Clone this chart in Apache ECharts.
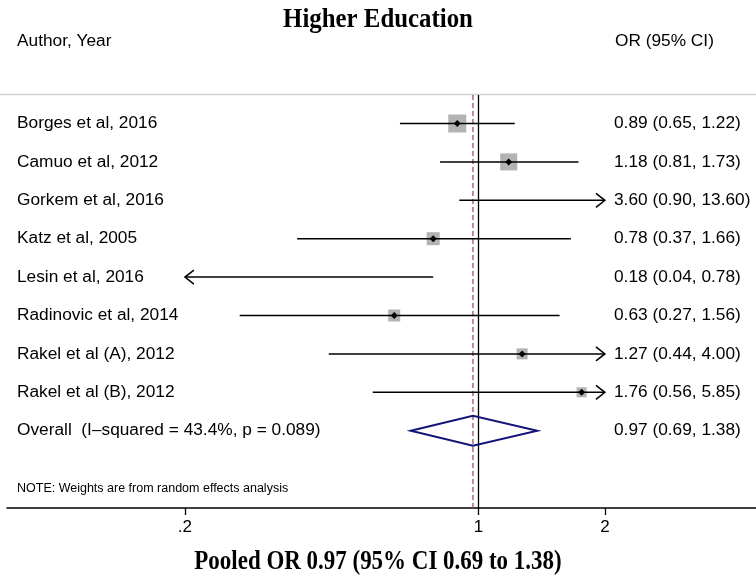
<!DOCTYPE html>
<html><head><meta charset="utf-8">
<script src="https://cdn.jsdelivr.net/npm/echarts@6/dist/echarts.min.js"></script>
<style>html,body{margin:0;padding:0;background:#fff}#c{width:756px;height:586px}</style>
</head><body><div id="c"></div>
<script>
// ---- data ----
const studies = ['Borges et al, 2016','Camuo et al, 2012','Gorkem et al, 2016','Katz et al, 2005','Lesin et al, 2016','Radinovic et al, 2014','Rakel et al (A), 2012','Rakel et al (B), 2012'];
const orValues = [0.89, 1.18, 3.60, 0.78, 0.18, 0.63, 1.27, 1.76];
const ciLower  = [0.65, 0.81, 0.90, 0.37, 0.04, 0.27, 0.44, 0.56];
const ciUpper  = [1.22, 1.73, 13.60, 1.66, 0.78, 1.56, 4.00, 5.85];
const weights  = [25.2, 22.5, 5.4, 13.1, 5.4, 11.2, 9.4, 7.8];
const overallLabel = 'Overall  (I\u2013squared = 43.4%, p = 0.089)';
const overallValues = [0.97, 0.69, 1.38]; // OR, lower, upper
const tickValues = [0.2, 1, 2];
const tickLabels = ['.2', '1', '2'];
const plotRange = [0.2, 2]; // displayed CI range (arrows beyond)
const refValues = [1, 0.97];

// ---- helpers / layout ----
const L = v => Math.log10(v);
const FONT = 'Liberation Sans, Arial, Helvetica, sans-serif';
const SERIF = 'Liberation Serif, Times New Roman, serif';
const xMin = -1.1226, xMax = 0.6607;
const yMin = -0.742, yMax = 10.013;
const fmt = (o, l, h) => `${o.toFixed(2)} (${l.toFixed(2)}, ${h.toFixed(2)})`;

const studyData = studies.map((s, i) => {
  const lo = Math.max(ciLower[i], plotRange[0]);
  const hi = Math.min(ciUpper[i], plotRange[1]);
  const inRange = orValues[i] >= plotRange[0] && orValues[i] <= plotRange[1] ? 1 : 0;
  return [i, L(lo), L(hi), L(orValues[i]), weights[i],
          ciLower[i] < plotRange[0] ? 1 : 0, ciUpper[i] > plotRange[1] ? 1 : 0, inRange];
});

function renderStudy(params, api) {
  const i = api.value(0);
  const pLo = api.coord([api.value(1), i]);
  const pHi = api.coord([api.value(2), i]);
  const pOr = api.coord([api.value(3), i]);
  const children = [];
  if (api.value(7)) {
    const s = 3.59 * Math.sqrt(api.value(4));
    children.push({type:'rect', shape:{x:pOr[0]-s/2, y:pOr[1]-s/2, width:s, height:s}, style:{fill:'#b3b3b3'}});
  }
  children.push({type:'line', shape:{x1:pLo[0], y1:pLo[1], x2:pHi[0], y2:pHi[1]}, style:{stroke:'#000', lineWidth:1.5}});
  if (api.value(5)) {
    children.push({type:'polyline', shape:{points:[[pLo[0]+9, pLo[1]-7],[pLo[0], pLo[1]],[pLo[0]+9, pLo[1]+7]]}, style:{stroke:'#000', lineWidth:1.5, fill:null}});
  }
  if (api.value(6)) {
    children.push({type:'polyline', shape:{points:[[pHi[0]-9, pHi[1]-7],[pHi[0], pHi[1]],[pHi[0]-9, pHi[1]+7]]}, style:{stroke:'#000', lineWidth:1.5, fill:null}});
  }
  if (api.value(7)) {
    const d = 3.5;
    children.push({type:'polygon', shape:{points:[[pOr[0]-d,pOr[1]],[pOr[0],pOr[1]-d],[pOr[0]+d,pOr[1]],[pOr[0],pOr[1]+d]]}, style:{fill:'#000'}});
  }
  return {type:'group', children};
}

const labelData = studies.map((s, i) => [i]).concat([[studies.length]]);
function renderLabel(params, api) {
  const i = api.value(0);
  const y = api.coord([0, i])[1];
  const isOverall = i === studies.length;
  const left = isOverall ? overallLabel : studies[i];
  const right = isOverall ? fmt(overallValues[0], overallValues[1], overallValues[2]) : fmt(orValues[i], ciLower[i], ciUpper[i]);
  return {type:'group', children:[
    {type:'text', x:17, y:y, style:{text:left, fontFamily:FONT, fontSize:17.3, fill:'#000', textVerticalAlign:'middle', textAlign:'left'}},
    {type:'text', x:614, y:y, style:{text:right, fontFamily:FONT, fontSize:17.3, fill:'#000', textVerticalAlign:'middle', textAlign:'left'}}
  ]};
}

function renderOverall(params, api) {
  const i = api.value(0);
  const c = api.coord([api.value(1), i]);
  const lo = api.coord([api.value(2), i]);
  const hi = api.coord([api.value(3), i]);
  const h = 15;
  return {type:'polygon', shape:{points:[[lo[0],lo[1]],[c[0],c[1]-h],[hi[0],hi[1]],[c[0],c[1]+h]]},
          style:{fill:null, stroke:'#141478', lineWidth:2}};
}

function renderRef(params, api) {
  const x = api.value(0);
  const a = api.coord([x, yMin]);
  const b = api.coord([x, yMax]);
  const dashed = params.dataIndex === 1;
  return {type:'line', shape:{x1:a[0], y1:a[1], x2:b[0], y2:b[1]},
          style:{stroke: dashed ? '#b04a5a' : '#000', lineWidth:1.3, lineDash: dashed ? [5,3] : null}};
}

const pooledTitle = `Pooled OR ${overallValues[0].toFixed(2)} (95% CI ${overallValues[1].toFixed(2)} to ${overallValues[2].toFixed(2)})`;

const chart = echarts.init(document.getElementById('c'));
chart.setOption({
  animation: false,
  backgroundColor: '#fff',
  graphic: [
    {type:'line', shape:{x1:0, y1:94.5, x2:756, y2:94.5}, style:{stroke:'#d0d0d0', lineWidth:1.5}, z:0},
    {type:'text', x:378, y:20, scaleX:0.92, style:{text:'Higher Education', fontFamily:SERIF, fontWeight:'bold', fontSize:27, fill:'#000', textAlign:'center', textVerticalAlign:'middle'}},
    {type:'text', x:378, y:562, scaleX:0.82, style:{text:pooledTitle, fontFamily:SERIF, fontWeight:'bold', fontSize:28, fill:'#000', textAlign:'center', textVerticalAlign:'middle'}},
    {type:'text', x:17, y:41, style:{text:'Author, Year', fontFamily:FONT, fontSize:17.3, fill:'#000', textVerticalAlign:'middle'}},
    {type:'text', x:615, y:41, style:{text:'OR (95% CI)', fontFamily:FONT, fontSize:17.3, fill:'#000', textVerticalAlign:'middle'}},
    {type:'text', x:17, y:489, style:{text:'NOTE: Weights are from random effects analysis', fontFamily:FONT, fontSize:12.5, fill:'#000', textVerticalAlign:'middle'}}
  ],
  grid: {left:7, right:0, top:95, bottom:78, containLabel:false},
  xAxis: {
    type:'value', min:xMin, max:xMax,
    axisLine:{show:true, onZero:false, lineStyle:{color:'#000', width:1.5}},
    axisTick:{show:true, customValues: tickValues.map(L), length:7, lineStyle:{color:'#000', width:1.3}},
    axisLabel:{show:true, customValues: tickValues.map(L), margin:11, fontFamily:FONT, fontSize:17, color:'#000',
      formatter: v => { let k = 0, best = 1e9; tickValues.forEach((t, j) => { const d = Math.abs(L(t) - v); if (d < best) { best = d; k = j; } }); return tickLabels[k]; }},
    splitLine:{show:false}
  },
  yAxis: {type:'value', inverse:true, min:yMin, max:yMax, show:false},
  series: [
    {type:'custom', name:'ref', data: refValues.map(v => [L(v)]), renderItem: renderRef, clip:false, silent:true, z:1, encode:{x:0}},
    {type:'custom', name:'studies', data: studyData, renderItem: renderStudy, clip:false, silent:true, z:2, encode:{x:[1,2,3], y:0}},
    {type:'custom', name:'overall', data: [[studies.length, L(overallValues[0]), L(overallValues[1]), L(overallValues[2])]], renderItem: renderOverall, clip:false, silent:true, z:3, encode:{x:[1,2,3], y:0}},
    {type:'custom', name:'labels', data: labelData, renderItem: renderLabel, clip:false, silent:true, z:4, encode:{y:0}}
  ]
});
</script></body></html>
